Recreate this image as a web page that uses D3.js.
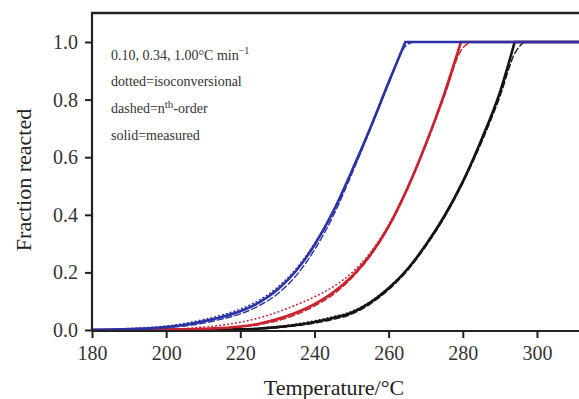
<!DOCTYPE html>
<html>
<head>
<meta charset="utf-8">
<script src="https://cdn.jsdelivr.net/npm/d3@7"></script>
<style>
  body { margin: 0; background: #fff; }
  svg { display: block; font-family: "Liberation Serif", "Times New Roman", serif; }
</style>
</head>
<body>
<div id="chart"></div>
<script>
// temperatures (°C) and fraction reacted
const blueT      = [180, 190, 200, 205, 210, 215, 220, 225, 230, 235, 240, 245, 250, 255, 260, 264.5, 266.5, 320];
const blueSolid  = [0, 0.003, 0.01, 0.018, 0.03, 0.045, 0.065, 0.095, 0.14, 0.205, 0.295, 0.41, 0.55, 0.70, 0.86, 1.0, 1.0, 1.0];
const blueDash   = [0, 0.002, 0.008, 0.014, 0.024, 0.038, 0.056, 0.084, 0.125, 0.188, 0.278, 0.395, 0.54, 0.695, 0.855, 0.985, 1.0, 1.0];
const blueDot    = [0, 0.005, 0.014, 0.023, 0.036, 0.052, 0.073, 0.103, 0.148, 0.212, 0.30, 0.412, 0.55, 0.70, 0.86, 1.0, 1.0, 1.0];

const redT       = [180, 200, 210, 220, 225, 230, 235, 240, 245, 250, 255, 260, 265, 270, 275, 279.5, 282, 320];
const redSolid   = [0, 0.001, 0.004, 0.012, 0.022, 0.038, 0.06, 0.09, 0.13, 0.185, 0.26, 0.36, 0.49, 0.645, 0.82, 1.0, 1.0, 1.0];
const redDash    = [0, 0.001, 0.003, 0.01, 0.018, 0.032, 0.053, 0.083, 0.123, 0.18, 0.256, 0.357, 0.487, 0.64, 0.81, 0.97, 1.0, 1.0];
const redDot     = [0, 0.003, 0.01, 0.027, 0.042, 0.062, 0.087, 0.115, 0.15, 0.198, 0.268, 0.365, 0.492, 0.645, 0.82, 1.0, 1.0, 1.0];

const blackT     = [180, 220, 230, 240, 245, 250, 255, 260, 265, 270, 275, 280, 285, 290, 294, 296.5, 320];
const blackSolid = [0, 0.002, 0.01, 0.028, 0.042, 0.06, 0.095, 0.145, 0.21, 0.295, 0.395, 0.515, 0.66, 0.825, 1.0, 1.0, 1.0];
const blackDash  = [0, 0.002, 0.008, 0.024, 0.037, 0.055, 0.09, 0.14, 0.205, 0.29, 0.39, 0.51, 0.65, 0.81, 0.96, 1.0, 1.0];
const blackDot   = [0, 0.003, 0.012, 0.032, 0.046, 0.064, 0.098, 0.148, 0.212, 0.297, 0.396, 0.515, 0.66, 0.825, 1.0, 1.0, 1.0];

const xTicks = [180, 200, 220, 240, 260, 280, 300];
const yTicks = [0, 0.2, 0.4, 0.6, 0.8, 1.0];

const width = 579, height = 399;
const svg = d3.select("#chart").append("svg")
    .attr("width", width)
    .attr("height", height);

const x = d3.scaleLinear().domain([180, 320]).range([92, 92 + 140 * 3.708]);
const y = d3.scaleLinear().domain([0, 1.1]).range([330, 13.2]);

svg.append("defs").append("clipPath").attr("id", "plot")
  .append("rect").attr("x", 92).attr("y", 13).attr("width", width - 92).attr("height", 318);

const line = d3.line().x(d => x(d[0])).y(d => y(d[1])).curve(d3.curveMonotoneX);

// smooth rise up to the plateau, then a straight flat run (keeps the sharp corner)
function curvePath(pts) {
    const k = pts.findIndex(p => p[1] >= 1);
    const rise = pts.slice(0, k + 1);
    return line(rise) + `H${x(pts[pts.length - 1][0])}`;
}

const series = [
  {t: blackT, v: blackSolid, color: "#141414", style: "solid"},
  {t: blackT, v: blackDash,  color: "#141414", style: "dash"},
  {t: blackT, v: blackDot,   color: "#141414", style: "dot"},
  {t: redT,   v: redSolid,   color: "#c8222e", style: "solid"},
  {t: redT,   v: redDash,    color: "#c8222e", style: "dash"},
  {t: redT,   v: redDot,     color: "#c8222e", style: "dot"},
  {t: blueT,  v: blueSolid,  color: "#2a33a6", style: "solid"},
  {t: blueT,  v: blueDash,   color: "#2a33a6", style: "dash"},
  {t: blueT,  v: blueDot,    color: "#2a33a6", style: "dot"}
];

const g = svg.append("g").attr("clip-path", "url(#plot)");
series.forEach(s => {
    const p = g.append("path")
      .datum(s.t.map((t, i) => [t, s.v[i]]))
      .attr("d", curvePath)
      .attr("fill", "none")
      .attr("stroke", s.color)
      .attr("stroke-linecap", "round");
    if (s.style === "solid") p.attr("stroke-width", 2.6);
    if (s.style === "dash") p.attr("stroke-width", 1.4).attr("stroke-dasharray", "6,3");
    if (s.style === "dot") p.attr("stroke-width", 1.6).attr("stroke-dasharray", "0.5,3.5");
});

// axes
const xAxis = svg.append("g")
    .attr("transform", "translate(0,331)")
    .call(d3.axisBottom(x).tickValues(xTicks).tickSize(7).tickSizeOuter(0).tickPadding(8).tickFormat(d3.format("d")));
const yAxis = svg.append("g")
    .attr("transform", "translate(92,0)")
    .call(d3.axisLeft(y).tickValues(yTicks).tickSize(7).tickSizeOuter(0).tickPadding(7).tickFormat(d3.format(".1f")));

[xAxis, yAxis].forEach(a => {
    a.select(".domain").attr("stroke", "#222").attr("stroke-width", 2.2);
    a.selectAll(".tick line").attr("stroke", "#222").attr("stroke-width", 2);
    a.selectAll(".tick text").attr("fill", "#333")
      .style("font-family", "Liberation Serif, serif").style("font-size", "20px");
});
xAxis.select(".domain").attr("d", `M92,0H${width}`);
yAxis.select(".domain").attr("d", "M0,331V13");

// top frame
svg.append("line")
    .attr("x1", 91).attr("x2", width)
    .attr("y1", 13).attr("y2", 13)
    .attr("stroke", "#222").attr("stroke-width", 2.4);

// axis titles
svg.append("text")
    .attr("x", 334).attr("y", 395)
    .attr("text-anchor", "middle")
    .attr("fill", "#222")
    .style("font-size", "22px")
    .text("Temperature/°C");

svg.append("text")
    .attr("transform", "translate(31,180) rotate(-90)")
    .attr("text-anchor", "middle")
    .attr("fill", "#222")
    .style("font-size", "22px")
    .text("Fraction reacted");

// annotation
const note = svg.append("g").attr("fill", "#333").style("font-size", "14px");
const l1 = note.append("text").attr("x", 111).attr("y", 60);
l1.append("tspan").text("0.10, 0.34, 1.00°C min");
l1.append("tspan").attr("dy", -6).style("font-size", "10px").text("−1");
note.append("text").attr("x", 111).attr("y", 86).text("dotted=isoconversional");
const l3 = note.append("text").attr("x", 111).attr("y", 113);
l3.append("tspan").text("dashed=n");
l3.append("tspan").attr("dy", -5).style("font-size", "11px").text("th");
l3.append("tspan").attr("dy", 5).text("-order");
note.append("text").attr("x", 111).attr("y", 140).text("solid=measured");
</script>
</body>
</html>
